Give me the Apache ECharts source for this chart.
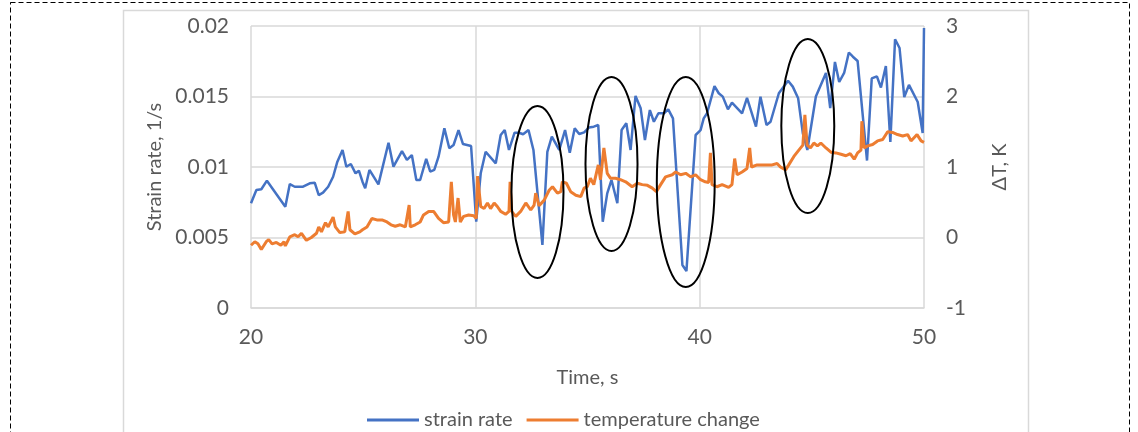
<!DOCTYPE html>
<html>
<head>
<meta charset="utf-8">
<script src="https://cdn.jsdelivr.net/npm/echarts@6/dist/echarts.min.js"></script>
<style>
html, body { margin: 0; padding: 0; background: #fff; }
#chart { width: 1138px; height: 432px; }
</style>
</head>
<body>
<div id="chart"></div>
<script>
// strain rate (blue)
var strainTime = [20.0,20.24,20.46,20.71,21.53,21.73,21.95,22.32,22.62,22.84,
  23.02,23.21,23.44,23.66,23.85,24.08,24.25,24.45,24.66,24.81,
  24.97,25.09,25.28,25.68,26.13,26.35,26.73,26.95,27.17,27.37,
  27.54,27.81,27.99,28.17,28.36,28.62,28.84,29.03,29.25,29.45,
  29.81,30.04,30.24,30.46,30.91,31.13,31.31,31.50,31.75,31.95,
  32.13,32.37,32.59,32.99,33.21,33.41,33.74,34.00,34.21,34.43,
  34.63,34.85,35.06,35.28,35.48,35.68,35.88,36.07,36.33,36.52,
  36.73,36.92,37.14,37.37,37.56,37.78,37.96,38.16,38.41,38.60,
  38.81,39.23,39.41,39.82,40.04,40.18,40.33,40.66,40.85,41.03,
  41.26,41.44,41.89,42.11,42.51,42.71,42.98,43.16,43.53,43.94,
  44.15,44.39,44.60,44.80,45.18,45.63,45.82,46.03,46.22,46.44,
  46.65,46.83,47.04,47.46,47.67,47.90,48.08,48.30,48.50,48.71,
  48.91,49.12,49.33,49.72,49.94,50.0];
var strainRate = [0.00743,0.00837,0.00842,0.00903,0.00718,0.00879,0.00860,0.00860,0.00884,0.00889,
  0.00801,0.00818,0.00860,0.00931,0.01038,0.01121,0.01002,0.01021,0.00955,0.00974,
  0.00896,0.00849,0.00979,0.00877,0.01172,0.01002,0.01113,0.01050,0.01085,0.00908,
  0.00908,0.01057,0.00967,0.00979,0.01073,0.01274,0.01133,0.01156,0.01262,0.01163,
  0.01149,0.00612,0.00955,0.01108,0.01026,0.01227,0.01262,0.01121,0.01243,0.01243,
  0.01232,0.01262,0.01121,0.00447,0.01108,0.01215,0.01121,0.01262,0.01101,0.01274,
  0.01234,0.01246,0.01280,0.01286,0.01298,0.00612,0.00813,0.00908,0.00743,0.01262,
  0.01310,0.01121,0.01504,0.01416,0.01191,0.01404,0.01321,0.01381,0.01381,0.01409,
  0.01345,0.00305,0.00262,0.01227,0.01262,0.01345,0.01381,0.01574,0.01523,0.01499,
  0.01409,0.01456,0.01381,0.01491,0.01286,0.01499,0.01298,0.01321,0.01523,0.01612,
  0.01570,0.01487,0.01239,0.01121,0.01500,0.01667,0.01418,0.01745,0.01603,0.01667,
  0.01812,0.01782,0.01752,0.01046,0.01628,0.01643,0.01564,0.01716,0.01177,0.01906,
  0.01844,0.01496,0.01582,0.01461,0.01241,0.01986];

// temperature change (orange, right axis)
var tempTime = [20.0,20.17,20.31,20.46,20.68,20.79,20.94,21.13,21.33,21.47,
  21.53,21.73,21.95,22.10,22.25,22.47,22.69,22.92,23.02,23.14,
  23.32,23.44,23.66,23.76,23.96,24.18,24.33,24.41,24.63,24.85,
  24.97,25.17,25.39,25.61,25.84,26.06,26.24,26.43,26.65,26.88,
  27.05,27.10,27.32,27.54,27.69,27.92,28.14,28.36,28.58,28.81,
  28.93,29.03,29.11,29.23,29.33,29.48,29.70,29.93,30.04,30.10,
  30.24,30.39,30.54,30.68,30.84,30.98,31.13,31.35,31.50,31.55,
  31.62,31.80,32.02,32.25,32.47,32.62,32.69,32.84,33.07,33.29,
  33.44,33.66,33.81,33.88,34.06,34.25,34.48,34.70,34.85,34.99,
  35.13,35.28,35.48,35.58,35.73,35.88,36.03,36.25,36.47,36.70,
  36.99,37.22,37.44,37.67,37.89,38.07,38.26,38.48,38.78,38.93,
  39.15,39.38,39.60,39.82,40.04,40.25,40.40,40.48,40.55,40.77,
  41.00,41.29,41.44,41.56,41.67,41.89,42.11,42.23,42.31,42.56,
  42.93,43.23,43.45,43.60,43.83,43.97,44.20,44.42,44.60,44.69,
  44.79,44.94,45.09,45.25,45.40,45.63,45.85,46.07,46.30,46.52,
  46.71,46.89,47.04,47.19,47.23,47.33,47.49,47.71,47.93,48.16,
  48.38,48.60,48.82,49.05,49.27,49.42,49.69,49.87,50.0];
var tempChange = [-0.11,-0.06,-0.09,-0.17,-0.06,-0.03,-0.09,-0.07,-0.11,-0.06,
  -0.12,0.01,0.04,0.01,0.06,-0.04,0.0,0.06,0.15,0.08,
  0.21,0.15,0.29,0.15,0.07,0.08,0.37,0.11,0.05,0.08,
  0.11,0.15,0.27,0.25,0.25,0.22,0.18,0.16,0.18,0.15,
  0.46,0.15,0.18,0.22,0.32,0.37,0.37,0.27,0.21,0.22,
  0.79,0.32,0.22,0.56,0.22,0.30,0.32,0.31,0.27,0.87,
  0.44,0.41,0.49,0.41,0.49,0.44,0.37,0.33,0.37,0.79,
  0.37,0.30,0.37,0.49,0.39,0.46,0.63,0.45,0.53,0.67,
  0.72,0.63,0.65,0.79,0.77,0.65,0.60,0.58,0.70,0.72,
  0.84,0.75,1.03,0.82,1.27,0.91,0.84,0.84,0.82,0.79,
  0.72,0.77,0.75,0.74,0.70,0.65,0.75,0.86,0.89,0.93,
  0.89,0.91,0.86,0.89,0.82,0.79,0.78,1.20,0.75,0.72,
  0.75,0.71,0.75,1.12,0.89,0.93,0.98,1.27,1.00,1.03,
  1.03,1.03,1.05,1.00,0.96,1.03,1.15,1.24,1.31,1.74,
  1.31,1.27,1.34,1.30,1.34,1.27,1.21,1.20,1.18,1.16,
  1.19,1.11,1.20,1.24,1.65,1.27,1.30,1.32,1.37,1.39,
  1.50,1.49,1.46,1.44,1.46,1.37,1.46,1.37,1.35];

// hand-drawn ellipses: centre time, centre strain, half width (s), half height (1/s)
var ellipseTime = [32.77, 36.07, 39.38, 44.82];
var ellipseStrain = [0.00823, 0.01021, 0.00894, 0.01291];
var ellipseHalfT = [1.16, 1.16, 1.29, 1.18];
var ellipseHalfS = [0.0061, 0.00617, 0.00745, 0.00617];

var font = 'Lato, "Open Sans", sans-serif';
var grey = '#595959';
var gridGrey = '#d9d9d9';

var strainData = strainTime.map(function (t, i) { return [t, strainRate[i]]; });
var tempData = tempTime.map(function (t, i) { return [t, tempChange[i]]; });
var ellipseData = ellipseTime.map(function (t, i) {
  return [t, ellipseStrain[i], ellipseHalfT[i], ellipseHalfS[i]];
});

var mychart = echarts.init(document.getElementById('chart'));
var option = {
  animation: false,
  backgroundColor: '#fff',
  textStyle: { fontFamily: font },
  graphic: [
    { // dashed outer frame
      type: 'rect', silent: true, z: -10,
      shape: { x: 10.5, y: 2.5, width: 1119, height: 470 },
      style: { fill: null, stroke: '#000', lineWidth: 1, lineDash: [5, 3] }
    },
    { // chart area border
      type: 'rect', silent: true, z: -9,
      shape: { x: 123.5, y: 10.5, width: 905, height: 470 },
      style: { fill: null, stroke: gridGrey, lineWidth: 1.5 }
    }
  ],
  grid: { left: 251, right: 214, top: 26, bottom: 124 },
  legend: {
    data: ['strain rate', 'temperature change'],
    left: 362, top: 405,
    icon: 'rect', itemWidth: 52, itemHeight: 3, itemGap: 14,
    textStyle: { fontSize: 20, color: grey, fontFamily: font }
  },
  xAxis: {
    type: 'value', min: 20, max: 50, interval: 10,
    name: 'Time, s', nameLocation: 'middle', nameGap: 60,
    nameTextStyle: { fontSize: 20, color: grey, fontFamily: font },
    axisLine: { show: true, lineStyle: { color: gridGrey, width: 1.5 } },
    axisTick: { show: false },
    axisLabel: { fontSize: 21, color: grey, margin: 19, fontFamily: font },
    splitLine: { show: true, lineStyle: { color: gridGrey, width: 1.5 } }
  },
  yAxis: [
    {
      type: 'value', min: 0, max: 0.02, interval: 0.005,
      name: 'Strain rate, 1/s', nameLocation: 'middle', nameGap: 86, nameRotate: 90,
      nameTextStyle: { fontSize: 20, color: grey, fontFamily: font },
      axisLine: { show: false },
      axisTick: { show: false },
      axisLabel: { fontSize: 21, color: grey, margin: 22, fontFamily: font },
      splitLine: { show: true, lineStyle: { color: gridGrey, width: 1.5 } }
    },
    {
      type: 'value', min: -1, max: 3, interval: 1, position: 'right',
      name: 'ΔT, K', nameLocation: 'middle', nameGap: 66, nameRotate: 90,
      nameTextStyle: { fontSize: 20, color: grey, fontFamily: font },
      axisLine: { show: false },
      axisTick: { show: false },
      axisLabel: { fontSize: 21, color: grey, margin: 22, fontFamily: font },
      splitLine: { show: false }
    }
  ],
  series: [
    {
      name: 'strain rate', type: 'line', data: strainData,
      showSymbol: false, symbol: 'none',
      lineStyle: { color: '#4472C4', width: 2.5 },
      itemStyle: { color: '#4472C4' }
    },
    {
      name: 'temperature change', type: 'line', yAxisIndex: 1, data: tempData,
      showSymbol: false, symbol: 'none',
      lineStyle: { color: '#ED7D31', width: 3 },
      itemStyle: { color: '#ED7D31' }
    },
    {
      name: 'ellipses', type: 'custom', data: ellipseData, silent: true, z: 5,
      renderItem: function (params, api) {
        var c = api.coord([api.value(0), api.value(1)]);
        var s = api.size([api.value(2), api.value(3)]);
        return {
          type: 'ellipse',
          shape: { cx: c[0], cy: c[1], rx: s[0], ry: s[1] },
          style: { fill: null, stroke: '#000', lineWidth: 2 }
        };
      }
    }
  ]
};
mychart.setOption(option, true);
window.addEventListener('resize', () => mychart.resize());
</script>
</body>
</html>
